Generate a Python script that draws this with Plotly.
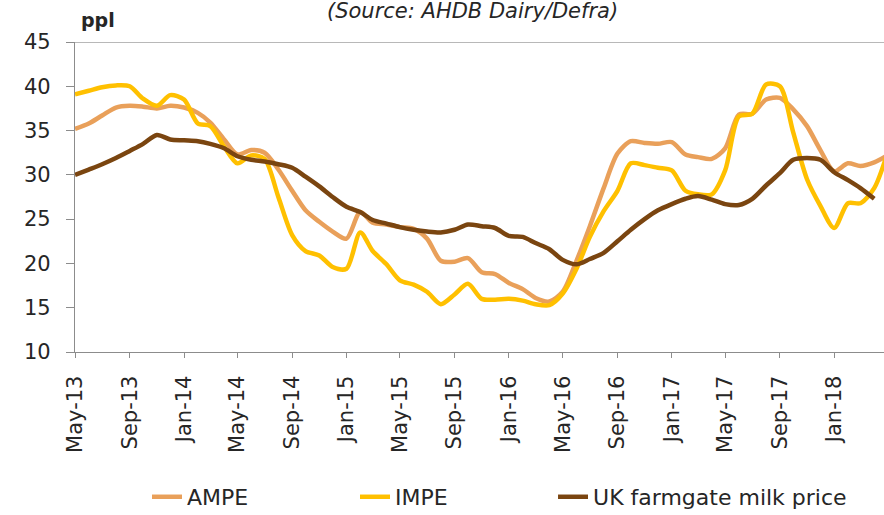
import pandas as pd
import plotly.graph_objects as go

start_month = "2013-05-01"

ampe = [35.2, 35.8, 36.7, 37.6, 37.8, 37.7, 37.5, 37.8, 37.6, 37.0,
        35.9, 34.0, 32.3, 32.8, 32.5, 30.6, 28.2, 26.0, 24.7, 23.6,
        22.8, 25.8, 24.6, 24.4, 24.1, 23.9, 22.8, 20.3, 20.2, 20.6,
        19.0, 18.8, 17.8, 17.1, 16.1, 15.7, 16.8, 20.3, 24.2, 28.5,
        32.4, 33.8, 33.6, 33.5, 33.7, 32.3, 32.0, 31.8, 33.0, 36.8,
        36.9, 38.5, 38.7, 37.4, 35.5, 32.8, 30.4, 31.3, 31.0, 31.4,
        32.2]

impe = [39.1, 39.5, 39.9, 40.1, 40.0, 38.6, 37.8, 39.0, 38.5, 35.8,
        35.5, 33.2, 31.3, 32.2, 31.8, 27.5, 23.2, 21.4, 20.9, 19.6,
        19.4, 23.5, 21.4, 19.9, 18.1, 17.6, 16.8, 15.4, 16.5, 17.7,
        16.0, 15.9, 16.0, 15.8, 15.4, 15.3, 16.6, 19.4, 23.0, 25.9,
        28.2, 31.3, 31.1, 30.8, 30.5, 28.2, 27.8, 27.8, 30.5, 36.6,
        36.9, 40.2, 40.0, 34.8, 29.5, 26.5, 24.0, 26.8, 26.8, 28.5,
        32.5]

farmgate = [30.0, 30.6, 31.2, 31.9, 32.7, 33.5, 34.5, 34.0, 33.9, 33.8,
            33.5, 33.0, 32.1, 31.7, 31.5, 31.2, 30.8, 29.8, 28.7, 27.5,
            26.4, 25.8, 24.9, 24.5, 24.1, 23.8, 23.6, 23.5, 23.8, 24.4,
            24.2, 24.0, 23.1, 23.0, 22.3, 21.6, 20.4, 19.9, 20.5, 21.2,
            22.5, 23.8, 25.0, 26.0, 26.7, 27.3, 27.6, 27.2, 26.7, 26.6,
            27.3, 28.8, 30.2, 31.7, 31.9, 31.7, 30.3, 29.4, 28.5, 27.3]

months_ampe = pd.date_range(start_month, periods=len(ampe), freq="MS")
months_impe = pd.date_range(start_month, periods=len(impe), freq="MS")
months_farm = pd.date_range(start_month, periods=len(farmgate), freq="MS")

series_names = ["AMPE", "IMPE", "UK farmgate milk price"]
series_colors = ["#E9A05A", "#FFC000", "#7A4510"]
legend_ids = ["legend", "legend2", "legend3"]

fig = go.Figure()
for name, xs, ys, col, lg in zip(series_names,
                                 [months_ampe, months_impe, months_farm],
                                 [ampe, impe, farmgate], series_colors,
                                 legend_ids):
    fig.add_trace(go.Scatter(x=xs, y=ys, name=name, mode="lines", legend=lg,
                             line=dict(color=col, width=4.5, shape="spline",
                                       smoothing=0.8)))

axis_col = "#8C8C8C"
txt_col = "#262626"
fnt = "DejaVu Sans"


def legend_box(xpos):
    return dict(orientation="h", xref="container", yref="container",
                x=xpos, xanchor="left", y=0.035, yanchor="middle",
                font=dict(size=22, color=txt_col, family=fnt),
                bgcolor="rgba(0,0,0,0)", borderwidth=0)


fig.update_layout(
    width=884, height=515,
    margin=dict(l=75, r=0, t=42, b=163, autoexpand=False),
    paper_bgcolor="white", plot_bgcolor="white",
    font=dict(family=fnt, color=txt_col),
    showlegend=True,
    legend=legend_box(0.1663),
    legend2=legend_box(0.4016),
    legend3=legend_box(0.6256),
    xaxis=dict(type="date", range=["2013-05-01", "2018-04-23"],
               tick0="2013-05-01", dtick="M4", tickformat="%b-%y",
               tickangle=-90, ticks="outside", ticklen=5,
               tickcolor=axis_col, showline=True, linecolor=axis_col,
               linewidth=1.3, showgrid=False, zeroline=False,
               ticklabelstandoff=9,
               tickfont=dict(size=21, color=txt_col, family=fnt),
               automargin=False),
    yaxis=dict(range=[10, 45], dtick=5, tick0=10, ticks="outside",
               ticklen=8, tickcolor=axis_col, showline=True,
               linecolor=axis_col, linewidth=1.3, showgrid=False,
               zeroline=False, ticklabelstandoff=11,
               tickfont=dict(size=21, color=txt_col, family=fnt),
               automargin=False),
)

fig.add_shape(type="line", xref="paper", yref="y", x0=0, x1=1, y0=45, y1=45,
              line=dict(color="#A0A0A0", width=1.5), layer="below")

fig.add_annotation(text="(Source: AHDB Dairy/Defra)", xref="paper", yref="paper",
                   x=(472 - 75) / 809, y=1 + (42 - 11) / 310,
                   xanchor="center", yanchor="middle", showarrow=False,
                   font=dict(size=21, family=fnt, color=txt_col,
                             style="italic"))
fig.add_annotation(text="<b>ppl</b>", xref="paper", yref="paper",
                   x=(79 - 75) / 809, y=1 + (42 - 20) / 310,
                   xanchor="left", yanchor="middle", showarrow=False,
                   font=dict(size=19, family=fnt, color=txt_col))

fig.write_html("out.html",
               config={"displayModeBar": False},
               post_script="document.body.style.margin='0px';"
                           "document.body.style.overflow='hidden';")
